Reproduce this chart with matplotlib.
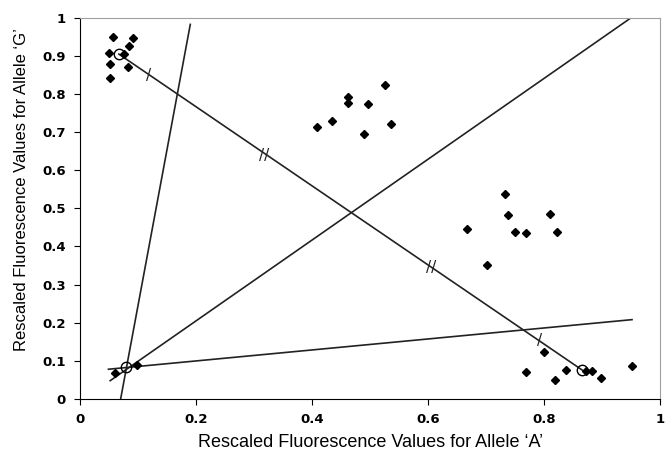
import matplotlib.pyplot as plt

# measured points (allele A, allele G)
cluster_x = [0.057, 0.091, 0.085, 0.050, 0.076, 0.051, 0.083, 0.052,
             0.408, 0.434, 0.461, 0.461, 0.497, 0.526, 0.535, 0.489,
             0.733, 0.737, 0.810, 0.667, 0.750, 0.768, 0.821, 0.701,
             0.800, 0.769, 0.818, 0.838, 0.871, 0.882, 0.898, 0.951,
             0.061, 0.099]
cluster_y = [0.950, 0.947, 0.926, 0.906, 0.904, 0.877, 0.869, 0.841,
             0.712, 0.728, 0.792, 0.775, 0.774, 0.824, 0.721, 0.694,
             0.538, 0.483, 0.484, 0.445, 0.438, 0.434, 0.439, 0.350,
             0.122, 0.070, 0.051, 0.076, 0.074, 0.074, 0.054, 0.086,
             0.069, 0.090]

# cluster centres (open circles)
centre_x = [0.067, 0.079, 0.865]
centre_y = [0.904, 0.083, 0.076]

# boundary lines: (x0, x1), (y0, y1)
lines = [
    ([0.070, 0.190], [0.000, 0.982]),
    ([0.052, 0.950], [0.048, 1.000]),
    ([0.049, 0.951], [0.078, 0.208]),
    ([0.067, 0.865], [0.904, 0.076]),
]

# equal-length tick marks on the long line
tick_x = [0.118, 0.792, 0.318, 0.605]
tick_y = [0.847, 0.153, 0.637, 0.346]
tick_s = ['/', '/', '//', '//']

fig = plt.figure(figsize=(6.65, 4.55), dpi=100)
ax = fig.add_axes([0.1203, 0.1231, 0.8729, 0.8384])

for lx, ly in lines:
    ax.plot(lx, ly, color='#222222', lw=1.2)

ax.plot(cluster_x, cluster_y, 'D', color='black', markersize=4, ls='none')
ax.plot(centre_x, centre_y, 'o', mfc='none', mec='black', mew=1.0,
        markersize=7.5, ls='none')

for tx, ty, s in zip(tick_x, tick_y, tick_s):
    ax.text(tx, ty, s, ha='center', va='center', fontsize=11,
            color='#222222')

ax.set_xlim(0, 1)
ax.set_ylim(0, 1)
ax.set_xticks([0, 0.2, 0.4, 0.6, 0.8, 1])
ax.set_xticklabels(['0', '0.2', '0.4', '0.6', '0.8', '1'])
ax.set_yticks([i / 10 for i in range(11)])
ax.set_yticklabels(['0'] + ['0.%d' % i for i in range(1, 10)] + ['1'])
ax.tick_params(direction='out', length=4, width=0.8, labelsize=9.5, pad=6)
for lab in ax.get_xticklabels() + ax.get_yticklabels():
    lab.set_fontweight('bold')

ax.spines['top'].set_color('#a0a0a0')
ax.spines['right'].set_color('#a0a0a0')

ax.set_xlabel('Rescaled Fluorescence Values for Allele \u2018A\u2019',
              family='Liberation Sans', fontsize=13, labelpad=6)
ax.set_ylabel('Rescaled Fluorescence Values for Allele \u2018G\u2019',
              family='Liberation Sans', fontsize=12)
ax.yaxis.set_label_coords(-0.087, 0.55)

fig.savefig('out.png', dpi=100)
